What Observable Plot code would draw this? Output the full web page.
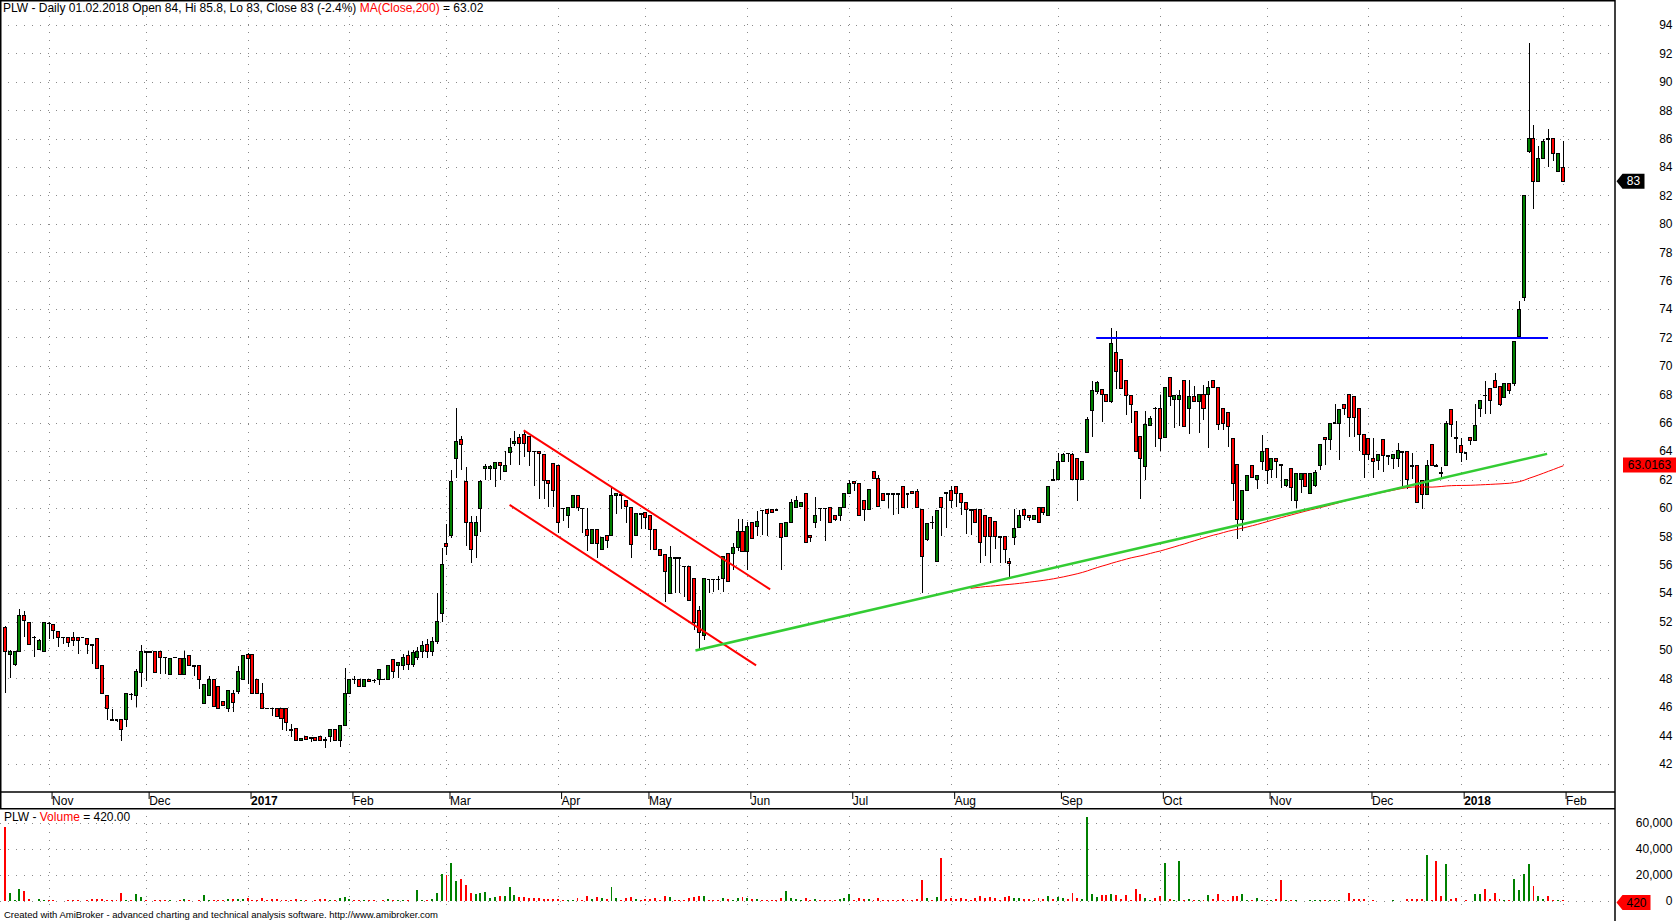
<!DOCTYPE html>
<html><head><meta charset="utf-8">
<script src="https://cdn.jsdelivr.net/npm/d3@7"></script>
<script src="https://cdn.jsdelivr.net/npm/@observablehq/plot@0.6"></script>
<style>
html,body{margin:0;padding:0;background:#fff;overflow:hidden;}
#wrap{position:relative;width:1676px;height:921px;overflow:hidden;background:#fff;font-family:"Liberation Sans",Arial,sans-serif;}
.txt{position:absolute;white-space:pre;color:#000;z-index:5;}
#price,#vol{position:absolute;left:0;}
</style></head><body>
<div id="wrap">
  <div id="price" style="top:0"></div>
  <div id="vol" style="top:808px"></div>
  <div class="txt" style="left:3px;top:2px;font-size:12px;line-height:12px">PLW - Daily 01.02.2018 Open 84, Hi 85.8, Lo 83, Close 83 (-2.4%) <span style="color:#ff0000">MA(Close,200)</span> = 63.02</div>
  <div class="txt" style="left:4px;top:811px;font-size:12px;line-height:12px">PLW - <span style="color:#ff0000">Volume</span> = 420.00</div>
  <div class="txt" style="left:4px;top:910px;font-size:9.5px;line-height:10px">Created with AmiBroker - advanced charting and technical analysis software. http://www.amibroker.com</div>
</div>
<script>
// ---------- data (daily bars, 19.10.2016 .. 01.02.2018) ----------
const opens = [
51.6,49.7,49.0,49.9,52.45,51.9,50.9,50.0,49.9,51.9,
51.8,51.3,50.9,50.9,50.9,50.9,50.9,50.8,50.4,50.8,
48.9,46.8,45.1,45.1,45.1,45.1,46.9,46.8,48.4,49.9,
49.9,49.9,49.9,49.5,48.3,49.5,49.4,48.3,49.6,48.9,
48.9,46.25,46.8,47.9,47.4,46.4,45.9,46.9,47.1,47.9,
49.7,49.7,47.9,46.9,45.9,45.9,45.9,45.85,45.85,44.4,
44.5,43.6,43.9,43.85,43.85,43.9,43.7,43.9,44.4,43.6,
44.7,46.9,47.95,47.95,47.4,47.9,47.9,47.9,47.95,47.9,
49.3,48.9,48.9,49.6,49.0,49.5,49.9,50.4,49.9,50.6,
52.6,57.5,58.05,63.5,64.8,61.85,58.95,58.05,59.95,62.75,
62.75,62.75,63.2,62.55,63.9,64.55,64.95,65.15,65.0,64.0,
64.0,63.75,61.9,63.1,63.0,60.0,59.5,60.0,60.9,60.0,
58.5,57.5,58.5,57.05,58.05,58.05,60.9,60.95,60.5,60.0,
58.05,59.6,59.7,59.45,58.5,57.05,56.7,54.0,56.5,56.5,
55.9,55.9,55.0,52.8,51.0,55.0,55.0,55.0,55.0,56.8,
56.8,57.2,58.35,56.95,59.0,58.7,59.85,59.9,59.9,59.9,
58.9,58.0,59.0,60.0,60.1,61.0,58.05,59.0,60.0,60.0,
60.0,59.5,59.5,60.0,61.0,61.85,61.7,60.5,59.9,62.55,
62.05,61.0,61.0,61.0,61.0,61.5,61.0,61.15,61.15,59.9,
57.8,59.0,56.25,60.7,61.1,61.2,61.5,61.0,60.4,59.9,
59.9,59.9,59.5,59.3,59.05,58.0,58.0,56.25,57.95,58.65,
59.9,59.5,59.2,60.0,60.0,59.5,62.0,62.0,63.25,63.85,
63.75,63.5,62.0,63.9,66.85,68.2,68.35,68.0,67.5,70.95,
70.45,68.95,67.95,66.8,65.0,62.95,65.8,67.05,67.0,64.95,
69.2,67.6,67.6,69.0,67.0,67.85,67.5,68.0,68.0,68.95,
68.5,67.0,66.75,64.9,63.05,59.2,61.25,63.0,62.0,63.25,
64.2,62.7,63.5,63.05,61.6,62.8,60.55,62.0,62.4,61.05,
61.55,63.0,64.95,64.8,66.0,65.95,67.3,68.0,67.85,67.0,
65.2,64.9,63.5,63.35,64.8,63.7,63.5,63.5,64.0,63.95,
63.0,63.0,61.9,60.95,64.45,63.0,62.5,63.0,66.9,64.95,
64.4,63.9,64.95,64.75,67.0,67.95,68.4,68.95,68.55,67.75,
68.75,68.75,72.05,74.8,85.1,86.0,82.95,84.6,86.0,86.0,
83.7,84.0];
const highs = [
51.7,50.0,49.9,52.9,52.75,51.9,50.95,50.8,51.9,51.95,
51.8,51.3,50.9,50.9,51.25,50.9,50.9,50.8,50.4,50.8,
48.9,46.8,45.85,45.1,45.1,46.9,47.0,48.65,50.35,49.9,
49.95,49.9,49.9,49.5,49.4,49.5,49.4,49.9,49.6,48.9,
48.9,47.6,48.2,47.9,47.4,46.4,47.15,47.15,48.9,49.6,
49.8,49.7,47.9,47.7,45.9,45.9,45.9,45.85,45.85,44.8,
44.5,43.8,43.9,43.9,43.85,43.9,43.9,44.4,44.4,44.7,
48.75,47.9,48.2,47.95,47.9,47.9,47.95,48.6,47.95,48.9,
49.3,49.1,49.7,49.9,50.0,50.2,50.6,50.8,50.9,54.0,
57.2,58.9,62.7,67.0,65.05,62.85,59.45,59.45,62.0,63.1,
63.0,63.2,63.2,64.0,64.95,65.45,65.2,65.45,65.05,64.0,
64.0,63.75,61.9,63.1,63.0,60.0,60.0,60.9,60.9,60.0,
60.0,58.5,58.5,57.9,58.05,61.45,61.0,61.0,60.5,60.0,
59.6,59.6,59.7,59.45,58.5,57.05,56.7,57.35,56.5,56.5,
55.9,55.9,55.0,53.1,55.0,55.0,55.0,55.2,56.6,56.8,
57.5,59.2,59.2,59.0,59.0,59.75,59.85,59.9,59.9,59.9,
58.9,59.0,60.6,60.85,60.4,61.0,58.05,60.8,60.0,60.0,
60.0,59.5,60.0,61.0,62.0,61.9,61.7,60.5,61.3,62.6,
62.35,61.0,61.0,61.0,61.0,61.5,61.0,61.15,61.3,59.9,
58.9,59.4,59.8,60.7,61.1,61.55,61.5,61.0,60.4,59.9,
59.9,59.9,59.5,59.3,59.05,58.0,58.0,56.5,59.9,59.85,
59.9,59.5,59.5,60.0,60.0,61.5,62.75,63.85,63.85,63.85,
63.85,63.5,63.25,66.4,68.95,68.95,68.35,68.0,72.65,72.45,
70.45,68.95,67.95,66.8,65.0,66.8,66.45,67.1,67.95,68.5,
69.2,67.9,68.3,69.0,69.0,68.6,68.0,68.65,68.95,68.95,
68.5,67.0,66.75,64.9,63.1,61.2,62.3,63.0,62.3,65.15,
64.2,63.5,63.5,63.05,62.0,62.8,62.4,62.4,62.4,62.4,
62.65,64.45,64.95,65.95,67.35,66.95,67.3,68.0,67.85,67.0,
65.2,64.9,64.9,63.75,64.8,63.7,63.75,64.6,64.0,63.95,
63.9,63.0,61.9,63.4,64.45,63.1,62.9,66.15,66.9,66.1,
64.95,63.9,64.95,67.3,67.55,68.95,68.4,69.5,68.55,68.75,
68.75,71.75,74.6,82.0,92.7,86.95,85.5,85.95,86.7,86.0,
84.95,85.8];
const lows = [
47.0,48.0,48.9,49.9,50.9,50.4,49.5,50.0,49.9,50.8,
50.75,50.2,50.45,50.2,50.3,49.7,50.9,49.7,49.0,48.7,
46.95,45.1,45.1,44.9,43.6,44.55,46.5,45.95,47.4,47.8,
49.8,48.4,48.3,48.3,48.3,49.5,48.3,48.3,48.9,48.2,
47.25,46.25,46.8,46.0,45.9,46.1,45.6,45.6,46.9,47.9,
47.6,46.9,46.9,45.9,45.9,45.35,45.35,44.4,44.3,43.9,
43.6,43.6,43.7,43.5,43.65,43.6,43.1,43.5,43.6,43.2,
44.7,46.9,47.6,47.4,47.4,47.8,47.7,47.5,47.95,47.9,
48.0,48.0,48.6,48.6,48.8,49.3,49.4,49.4,49.6,50.4,
52.0,56.7,57.9,62.1,62.7,57.3,56.15,56.5,58.3,62.0,
62.0,61.5,62.0,62.5,63.05,64.35,63.0,63.6,62.95,61.55,
60.6,60.6,60.1,60.1,58.2,59.05,58.6,60.0,59.75,58.2,
56.95,57.5,56.5,57.05,57.2,58.05,59.6,59.9,58.95,56.5,
58.05,58.5,58.5,57.05,57.05,56.65,53.4,54.0,54.0,54.0,
53.7,53.5,51.4,50.0,50.7,54.0,54.1,54.2,54.1,54.8,
55.65,57.0,56.95,55.65,57.85,58.0,58.1,58.05,59.7,59.9,
55.65,58.0,59.0,60.0,60.1,57.55,57.6,58.6,59.05,57.65,
59.0,59.05,59.05,60.0,61.0,61.2,59.5,59.1,59.9,62.05,
60.1,60.5,60.0,59.5,59.6,60.0,60.0,61.0,60.0,54.0,
57.7,58.5,56.25,58.0,58.6,60.0,60.1,59.5,58.15,58.1,
59.0,56.1,56.6,56.1,57.1,56.1,56.1,55.0,57.4,58.65,
59.15,59.05,59.2,59.0,59.5,59.5,62.0,62.0,63.25,63.25,
62.0,60.5,62.0,63.9,65.0,68.0,66.05,67.5,67.4,68.4,
68.4,66.55,66.0,64.0,60.6,62.0,65.8,64.3,64.0,64.95,
67.2,65.6,65.8,65.75,65.2,67.5,65.3,66.2,64.25,68.5,
65.5,65.5,64.3,60.5,57.8,58.4,61.25,62.15,61.35,62.65,
61.7,62.1,62.1,61.4,61.5,60.5,60.0,61.05,61.5,61.05,
61.5,62.65,63.0,64.1,66.0,63.35,66.55,65.0,65.0,64.0,
62.1,63.35,62.1,62.65,62.55,63.0,62.75,62.9,61.55,61.35,
62.05,60.4,59.95,60.95,63.0,63.0,62.2,63.0,65.0,63.9,
63.2,63.35,64.4,64.75,66.4,66.6,66.6,68.5,67.15,67.75,
68.05,68.6,72.05,74.6,85.0,81.05,82.95,84.6,84.0,84.4,
83.7,83.0];
const closes = [
49.9,49.9,49.9,52.4,52.1,50.4,50.9,50.7,51.9,51.9,
51.4,50.9,50.9,50.55,50.7,50.65,50.9,50.4,50.4,48.7,
46.95,45.85,45.1,45.1,44.4,46.9,46.9,48.45,49.9,49.9,
49.8,48.4,49.5,49.5,49.4,49.5,48.3,49.4,48.9,48.9,
47.9,47.6,47.9,46.0,45.9,46.1,47.15,46.3,48.45,49.6,
49.4,46.9,46.9,45.9,45.9,45.9,45.35,45.15,44.9,44.4,
43.6,43.8,43.7,43.85,43.65,43.6,43.7,44.4,43.6,44.7,
46.9,47.9,47.95,47.4,47.9,47.8,47.9,48.6,47.95,48.9,
48.5,49.1,49.5,49.0,49.8,49.9,50.3,49.9,50.6,52.0,
56.0,57.25,61.85,64.65,64.45,59.0,57.05,58.95,61.85,62.95,
62.9,63.2,63.0,63.0,64.25,64.7,64.55,64.55,64.0,64.0,
63.8,61.9,61.7,61.2,59.0,60.0,60.0,60.9,60.0,60.0,
58.05,58.5,57.5,57.9,57.7,60.9,61.0,60.95,60.1,57.4,
59.6,59.6,59.35,58.5,57.05,56.65,55.5,56.5,56.5,56.5,
55.9,53.5,51.9,51.2,55.0,55.0,55.0,55.0,56.6,54.8,
57.2,58.35,56.95,58.7,57.85,59.05,59.85,59.6,59.7,59.9,
57.9,59.0,60.4,60.5,60.4,57.55,57.9,59.5,60.0,60.0,
59.0,59.2,60.0,61.0,61.75,61.7,59.5,59.9,61.3,62.05,
60.1,60.5,61.0,61.0,61.0,60.0,61.0,61.0,60.0,56.6,
58.9,59.0,59.8,60.0,61.1,60.5,61.0,60.4,59.9,59.9,
59.0,57.55,58.0,58.0,58.0,58.0,57.05,56.1,58.55,59.5,
59.5,59.35,59.5,59.0,59.7,61.5,62.0,63.25,63.75,63.85,
62.0,62.0,63.25,66.25,68.25,68.8,68.0,67.5,71.55,69.6,
68.4,67.9,67.3,64.0,63.5,65.85,66.3,67.05,64.9,68.5,
67.85,67.9,67.95,65.75,67.85,67.5,68.0,67.0,68.5,68.5,
65.9,65.95,65.75,61.75,59.2,61.2,62.3,62.15,62.3,64.0,
62.65,63.5,63.3,63.0,62.0,61.45,62.4,62.4,61.5,62.4,
62.5,64.45,64.8,65.95,66.0,66.95,67.0,66.4,66.4,65.2,
63.75,63.75,63.3,63.75,63.7,63.7,63.75,64.05,63.9,62.0,
63.0,60.4,60.95,63.0,63.0,63.0,62.5,65.95,65.9,64.95,
63.9,63.9,64.75,65.8,67.55,67.95,67.55,68.5,67.3,68.75,
68.25,71.75,74.0,82.0,86.0,82.95,84.6,85.8,86.0,84.95,
84.95,83.0];
const volumes = [
57000,6000,1000,9000,7500,1500,300,1500,800,500,
400,300,300,800,600,500,300,1000,1200,1500,
1200,800,600,1000,6000,1000,800,5000,3000,400,
300,800,600,400,700,300,900,1200,500,300,
800,4300,600,1000,500,400,1200,1500,1800,1500,
2500,1000,800,2000,1000,1200,1500,900,1000,600,
1200,500,400,300,500,1200,1500,500,600,2200,
3000,1500,800,900,500,600,400,300,500,1500,
600,400,500,700,300,8200,1000,600,1500,6400,
21000,19700,29000,15000,16700,12000,5900,5000,6000,7000,
2600,3300,3800,3800,10800,4600,3000,3000,2600,2000,
2200,1500,1500,1300,1800,600,800,700,2500,800,
3500,1500,3000,2000,1500,11000,2500,1000,2000,3000,
1500,800,1200,1500,2000,1000,4000,3000,800,600,
1000,2500,3000,4000,3500,1000,800,600,2000,1500,
1000,2000,3000,2500,1200,1500,800,1000,600,500,
2500,8000,2500,1500,1000,2500,800,1200,500,600,
1000,500,1500,2000,5000,1000,2000,1200,1500,1000,
2000,800,500,400,600,1500,400,500,1500,16000,
2000,800,3000,33000,1500,2000,1500,2000,1800,1000,
2500,4000,2500,3000,2000,1000,3000,4000,2500,2000,
1500,1200,1000,2500,1500,4000,1500,3000,2000,1500,
6000,2500,1500,64800,5000,3000,4400,4400,5000,4400,
1800,4400,500,9500,5000,2600,800,2600,3600,29400,
1800,800,31000,1000,1800,500,1000,600,4400,1800,
5000,1000,600,3800,3800,5600,1000,600,2600,1000,
600,1000,1800,15900,1000,1000,1000,300,300,500,
500,500,500,500,500,500,300,6400,1800,1800,
1800,300,1000,300,300,300,1000,300,300,1800,
1800,1800,1800,35600,1000,31000,3600,28700,1800,2600,
300,1000,300,5000,5000,9000,1800,6400,1800,1000,
1000,17000,8700,21000,28700,11300,3600,1800,3800,1000,
1000,420];

// x-axis month starts (bar index) and their labels
const monthIdx = [9,29,50,71,91,114,132,153,174,195,217,238,260,281,300,321];
const monthLabels = ["Nov","Dec","2017","Feb","Mar","Apr","May","Jun","Jul","Aug","Sep","Oct","Nov","Dec","2018","Feb"];
const priceTicks = [42,44,46,48,50,52,54,56,58,60,62,64,66,68,70,72,74,76,78,80,82,84,86,88,90,92,94];
const volumeTicks = [0,20000,40000,60000];

// hand-drawn trend lines (bar index, price)
const trendX1 = [106.8, 103.9, 142.2, 224.8];
const trendY1 = [65.5, 60.25, 50.0, 72.0];
const trendX2 = [157.6, 154.7, 317.7, 317.9];
const trendY2 = [54.3, 48.95, 63.84, 72.0];
const trendColors = ["#ff0000","#ff0000","#33cc33","#0000ff"];
const trendWidths = [2, 2, 2.5, 2];

const maPeriod = 200;
const maLast = 63.0163;

// ---------- build ----------
const GREEN = "#008000", RED = "#ff0000";
const bars = opens.map((o, i) => ({i, o, h: highs[i], l: lows[i], c: closes[i], v: volumes[i], col: closes[i] > o ? GREEN : RED}));
const N = bars.length;
const trends = trendX1.map((x, k) => ({x1: x, y1: trendY1[k], x2: trendX2[k], y2: trendY2[k], s: trendColors[k], w: trendWidths[k]}));
const labelOf = new Map(monthIdx.map((d, k) => [d, monthLabels[k]]));
const isYear = d => /^\d{4}$/.test(labelOf.get(d));
const FONT = "'Liberation Sans', Arial, sans-serif";
const xOpt = {type: "linear", domain: [-1.01, 331.8], axis: null, label: null};
const grid = {stroke: "#8a8a8a", strokeWidth: 1, strokeDasharray: "1,7", shapeRendering: "crispEdges"};
const baseStyle = {background: "transparent", fontFamily: FONT, fontSize: "12px", overflow: "visible", color: "#000"};

function frameMark(opts) {
  return (index, scales, values, dims) => {
    const xr = dims.width - dims.marginRight;
    const yb = dims.height - dims.marginBottom;
    const g = d3.create("svg:g").attr("stroke", "#000").attr("fill", "none");
    if (opts.top) g.append("line").attr("x1", 0).attr("x2", xr).attr("y1", 0.75).attr("y2", 0.75).attr("stroke-width", 1.5);
    if (opts.left) g.append("line").attr("x1", 0.75).attr("x2", 0.75).attr("y1", 0).attr("y2", dims.height).attr("stroke-width", 1.5);
    if (opts.bottom) g.append("line").attr("x1", 0).attr("x2", xr).attr("y1", yb).attr("y2", yb).attr("stroke-width", 1.5);
    g.append("line").attr("x1", xr).attr("x2", xr).attr("y1", 0).attr("y2", opts.rightTo === "full" ? dims.height : yb).attr("stroke-width", 1.5);
    return g.node();
  };
}
function tagMark(value, text, fill, textFill, w, arrow, dyShift = 0) {
  return (index, scales, values, dims) => {
    const y = scales.y(value) + dyShift;
    const x0 = dims.width - dims.marginRight + (arrow ? 1.5 : 8);
    const g = d3.create("svg:g");
    const h = 7.5;
    const d = arrow
      ? `M${x0},${y} L${x0 + 6},${y - h} L${x0 + w},${y - h} L${x0 + w},${y + h} L${x0 + 6},${y + h} Z`
      : `M${x0},${y - h} L${x0 + w},${y - h} L${x0 + w},${y + h} L${x0},${y + h} Z`;
    g.append("path").attr("d", d).attr("fill", fill);
    g.append("text").attr("x", x0 + (arrow ? 6 : 0) + (w - (arrow ? 6 : 0)) / 2).attr("y", y).attr("dy", "0.35em")
      .attr("text-anchor", "middle").attr("fill", textFill).attr("font-size", 12).attr("font-family", FONT).text(text);
    return g.node();
  };
}

const price = Plot.plot({
  width: 1676, height: 808,
  marginLeft: 0, marginRight: 61, marginTop: 0, marginBottom: 16,
  x: xOpt,
  y: {domain: [40, 95.76], axis: null, label: null},
  color: {type: "identity"},
  style: baseStyle,
  marks: [
    Plot.ruleY(priceTicks, grid),
    Plot.ruleX(monthIdx, grid),
    Plot.ruleX(bars, {x: "i", y1: "l", y2: "h", stroke: "#000", strokeWidth: 1, shapeRendering: "crispEdges"}),
    Plot.rect(bars.filter(d => d.o !== d.c), {x1: d => d.i - 0.31, x2: d => d.i + 0.31, y1: "o", y2: "c", fill: "col", stroke: "#000", strokeWidth: 1, shapeRendering: "crispEdges"}),
    Plot.ruleY(bars.filter(d => d.o === d.c), {y: "o", x1: d => d.i - 0.4, x2: d => d.i + 0.4, stroke: "#000", strokeWidth: 1.5, shapeRendering: "crispEdges"}),
    Plot.line(bars, Plot.windowY({k: maPeriod, anchor: "end", strict: true, reduce: "mean"}, {x: "i", y: "c", stroke: "#ff0000", strokeWidth: 1})),
    Plot.link(trends, {x1: "x1", y1: "y1", x2: "x2", y2: "y2", stroke: "s", strokeWidth: "w"}),
    Plot.axisY(priceTicks, {anchor: "right", label: null, tickSize: 0, tickPadding: 57, textAnchor: "end", fontSize: 12}),
    Plot.axisX(monthIdx.filter(d => !isYear(d)), {anchor: "bottom", label: null, tickSize: 7, tickPadding: -3, textAnchor: "start", dx: 3, fontSize: 12, tickFormat: d => labelOf.get(d)}),
    Plot.axisX(monthIdx.filter(isYear), {anchor: "bottom", label: null, tickSize: 7, tickPadding: -3, textAnchor: "start", dx: 3, fontSize: 12, fontWeight: "bold", tickFormat: d => labelOf.get(d)}),
    frameMark({top: true, left: true, bottom: true, rightTo: "full"}),
    tagMark(closes[N - 1], String(closes[N - 1]), "#000", "#fff", 28, true),
    tagMark(maLast, maLast.toFixed(4), "#ff0000", "#000", 53, false)
  ]
});
document.getElementById("price").appendChild(price);

const vol = Plot.plot({
  width: 1676, height: 113,
  marginLeft: 0, marginRight: 61, marginTop: 0, marginBottom: 13,
  x: xOpt,
  y: {domain: [-5385, 71538], axis: null, label: null},
  color: {type: "identity"},
  style: baseStyle,
  marks: [
    Plot.ruleY(volumeTicks, grid),
    Plot.ruleX(monthIdx, grid),
    Plot.rect(bars, {x1: d => d.i - 0.2, x2: d => d.i + 0.2, y1: 0, y2: "v", fill: "col", shapeRendering: "crispEdges"}),
    Plot.axisY(volumeTicks, {anchor: "right", label: null, tickSize: 0, tickPadding: 57, textAnchor: "end", fontSize: 12, tickFormat: d3.format(",")}),
    frameMark({top: true, rightTo: "full"}),
    tagMark(volumes[N - 1], String(volumes[N - 1]), "#ff0000", "#000", 34, true, 2)
  ]
});
document.getElementById("vol").appendChild(vol);
</script>
</body></html>
